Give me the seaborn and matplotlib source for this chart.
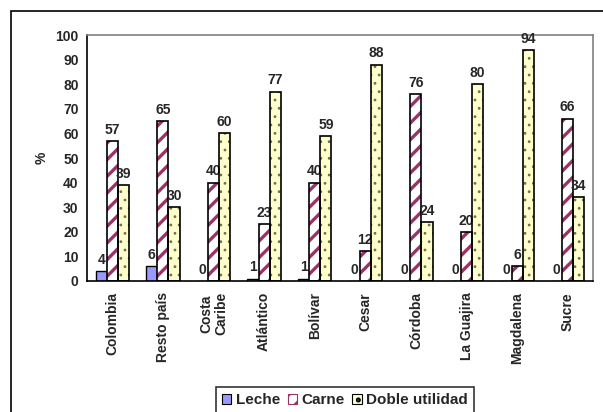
import pandas as pd
import numpy as np
import seaborn as sns
import matplotlib.pyplot as plt
from matplotlib.patches import Patch, Rectangle

# datos
categorias = ['Colombia', 'Resto país', 'Costa\nCaribe', 'Atlántico', 'Bolívar',
              'Cesar', 'Córdoba', 'La Guajira', 'Magdalena', 'Sucre']
leche = [4, 6, 0, 1, 1, 0, 0, 0, 0, 0]
carne = [57, 65, 40, 23, 40, 12, 76, 20, 6, 66]
doble = [39, 30, 60, 77, 59, 88, 24, 80, 94, 34]
series = ['Leche', 'Carne', 'Doble utilidad']

df = pd.DataFrame({'region': categorias * 3,
                   'tipo': np.repeat(series, len(categorias)),
                   'pct': leche + carne + doble})

sns.set_style('white')
plt.rcParams['font.family'] = ['Liberation Sans', 'DejaVu Sans']
plt.rcParams['font.weight'] = 'bold'
plt.rcParams['hatch.linewidth'] = 2.4

colores = ['#9999FF', '#FFFFFF', '#FFFFCC']
hatch_col = [None, '#993366', '#707050']
hatches = [None, '//', '..']
hatch_lw = [None, 2.4, 0.8]
fs = 10

fig = plt.figure(figsize=(6.03, 4.12), dpi=100)
ax = fig.add_axes([87/603, 1 - 281/412, (593 - 87)/603, (281 - 35)/412])

sns.barplot(data=df, x='region', y='pct', hue='tipo', palette=colores,
            width=0.66, gap=0, edgecolor='black', linewidth=1, saturation=1,
            ax=ax)
ax.get_legend().remove()

for i, cont in enumerate(ax.containers):
    for p in cont.patches:
        if hatches[i]:
            p.set_hatch(hatches[i])
            p.set_edgecolor(hatch_col[i])
            p.set_linewidth(0)
            if hasattr(p, 'set_hatch_linewidth'):
                p.set_hatch_linewidth(hatch_lw[i])
            ax.add_patch(Rectangle(p.get_xy(), p.get_width(), p.get_height(),
                                   fill=False, edgecolor='black', lw=1.2, zorder=3))
    ax.bar_label(cont, fmt='%g', padding=3, fontsize=fs, fontweight='bold')

ax.set_ylim(0, 100)
ax.set_xlim(-0.5, len(categorias) - 0.5)
ax.set_yticks(range(0, 101, 10))
ax.set_xticks(range(len(categorias)))
ax.set_xticklabels(categorias, rotation=90, fontsize=fs, fontweight='bold',
                   linespacing=1.1)
ax.set_xticks(np.arange(-0.5, len(categorias), 1), minor=True)
ax.tick_params(axis='x', which='major', length=0, pad=8)
ax.tick_params(axis='x', which='minor', length=4, width=1, color='black')
ax.tick_params(axis='y', length=4, width=1, color='black', labelsize=fs, pad=2)
for lab in ax.get_yticklabels():
    lab.set_fontweight('bold')
ax.set_xlabel('')
ax.set_ylabel('%', fontsize=fs, fontweight='bold', labelpad=5)

for s in ['top', 'right']:
    ax.spines[s].set_color('#808080')
    ax.spines[s].set_linewidth(1.2)
for s in ['left', 'bottom']:
    ax.spines[s].set_color('black')
    ax.spines[s].set_linewidth(1.2)

# marco exterior
fig.patches.append(Rectangle((11/603, -0.05), 1.1, 1 - 11/412 + 0.05,
                             transform=fig.transFigure, fill=False,
                             edgecolor='black', lw=1.2))

handles = [Patch(facecolor=colores[0], edgecolor='black', lw=0.8),
           Patch(facecolor='white', edgecolor='#993366', hatch='//', lw=0.8),
           Patch(facecolor=colores[2], edgecolor='black', hatch='..', lw=0.8)]
leg = fig.legend(handles, series, loc='upper center', ncol=3,
                 bbox_to_anchor=(345/603, 1 - 387/412), frameon=True,
                 fancybox=False, edgecolor='black', fontsize=11,
                 handlelength=0.6, handleheight=0.6, handletextpad=0.3,
                 columnspacing=0.5, borderpad=0.4, borderaxespad=0)
leg.get_frame().set_linewidth(1.2)
for t in leg.get_texts():
    t.set_fontweight('bold')

fig.savefig('out.png', dpi=100)
